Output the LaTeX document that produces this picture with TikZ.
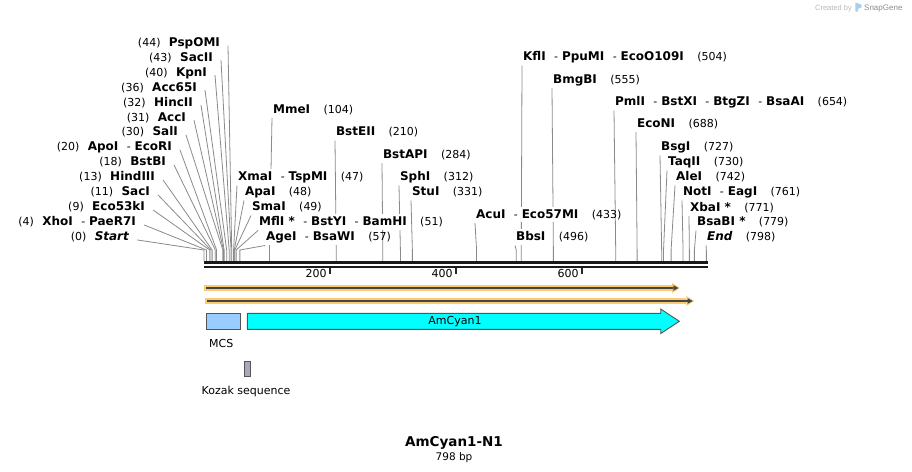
\documentclass[tikz,border=0pt]{standalone}
\usepackage{fontspec}
\setmainfont{DejaVu Sans}
\newfontfamily\logofont{Liberation Sans}
\usetikzlibrary{arrows.meta,backgrounds}
\definecolor{sitegray}{HTML}{8A8A8A}
\definecolor{orfband}{HTML}{FBCB74}
\definecolor{orfdark}{HTML}{454545}
\definecolor{mcsblue}{HTML}{99CCFF}
\definecolor{amcyan}{HTML}{00FFFF}
\definecolor{kozakgray}{HTML}{A9A9B8}
\definecolor{featedge}{HTML}{555555}
\definecolor{snapblue}{HTML}{A6D0EE}
% enzyme name on a white patch, numbers stay transparent
\newcommand\enz[1]{{\setlength\fboxsep{0.4pt}\colorbox{white}{\rule[-3.5pt]{0pt}{15pt}\fontsize{12}{14}\selectfont\bfseries #1}}}
\newcommand\dsh{\hspace{8pt}-\hspace{3.5pt}}

\begin{document}
\begin{tikzpicture}[x=1pt,y=-1pt,
    every node/.style={font=\fontsize{11}{13}\selectfont, inner sep=0.5pt},
    cut/.style={draw=sitegray, line width=0.8pt},
    feat/.style={draw=featedge, line width=0.9pt},
    leftlab/.style={anchor=base east},
    rightlab/.style={anchor=base west}]
  \useasboundingbox (0,0) rectangle (912,471);

  % sites left of the map: text ends at x
  \foreach \y/\x/\p/\lbl in {
      42.5/221/44/{\enz{PspOMI}},
      57/214/43/{\enz{SacII}},
      72/208/40/{\enz{KpnI}},
      87/198/36/{\enz{Acc65I}},
      102/194/32/{\enz{HincII}},
      117/187/31/{\enz{AccI}},
      131.7/179/30/{\enz{SalI}},
      146.7/173/20/{\enz{ApoI}\dsh\enz{EcoRI}},
      161.7/167/18/{\enz{BstBI}},
      176.7/156/13/{\enz{HindIII}},
      191.7/151/11/{\enz{SacI}},
      206.7/146/9/{\enz{Eco53kI}},
      221.7/137/4/{\enz{XhoI}\dsh\enz{PaeR7I}},
      236.7/130/0/{\enz{\itshape Start}}}{
    \coordinate (s\p) at ({204+0.6295*\p},250);
    \coordinate (b\p) at ({204+0.6295*\p},261);
    \node[leftlab] (e\p) at (\x,\y+4.2) {(\p)\hspace{8pt}\lbl};
  }

  % sites right of their line: text starts at x
  \foreach \y/\x/\p/\lbl in {
      109/273/104/{\enz{MmeI}},
      131.7/336/210/{\enz{BstEII}},
      154.3/383/284/{\enz{BstAPI}},
      176.7/238/47/{\enz{XmaI}\dsh\enz{TspMI}},
      191.7/245/48/{\enz{ApaI}},
      206.7/252/49/{\enz{SmaI}},
      221.7/259/51/{\enz{MflI *}\dsh\enz{BstYI}\dsh\enz{BamHI}},
      236.7/266/57/{\enz{AgeI}\dsh\enz{BsaWI}},
      176.7/400/312/{\enz{SphI}},
      191.7/412/331/{\enz{StuI}},
      214.3/476/433/{\enz{AcuI}\dsh\enz{Eco57MI}},
      236.7/516/496/{\enz{BbsI}},
      56.7/523/504/{\enz{KflI}\dsh\enz{PpuMI}\dsh\enz{EcoO109I}},
      79.3/553/555/{\enz{BmgBI}},
      101.7/615/654/{\enz{PmlI}\dsh\enz{BstXI}\dsh\enz{BtgZI}\dsh\enz{BsaAI}},
      123.3/637/688/{\enz{EcoNI}},
      146.7/661/727/{\enz{BsgI}},
      161.7/668/730/{\enz{TaqII}},
      176.7/676/742/{\enz{AleI}},
      191.7/683/761/{\enz{NotI}\dsh\enz{EagI}},
      207.3/690/771/{\enz{XbaI *}},
      221.7/697/779/{\enz{BsaBI *}},
      236.7/707/798/{\enz{\itshape End}}}{
    \coordinate (s\p) at ({204+0.6295*\p},250);
    \coordinate (b\p) at ({204+0.6295*\p},261);
    \node[rightlab] (e\p) at (\x-1,\y+4.2) {\lbl\hspace{13pt}(\p)};
  }

  % cut lines behind the labels
  \begin{scope}[on background layer]
    \foreach \p in {44,43,40,36,32,31,30,20,18,13,11,9,4,0}
      \draw[cut] ([shift={(7,3)}]e\p.east) -- (s\p) -- (b\p);
    \foreach \p in {104,210,284,47,48,49,51,57,312,331,433,496,504,555,654,688,727,730,742,761,771,779,798}
      \draw[cut] (e\p.south west) -- (s\p) -- (b\p);
  \end{scope}

  % backbone and ruler
  \coordinate (bbl) at (204,262.7);
  \coordinate (bbr) at (708,262.7);
  \draw[line width=3.3pt, black!90] (bbl) -- (bbr);
  \draw[line width=2.3pt, black!90] ([shift={(0,4.2)}]bbl) -- ([shift={(0,4.2)}]bbr);
  \foreach \t in {200,400,600}{
    \coordinate (t\t) at ({204+0.6295*\t},267.5);
    \draw[line width=1.7pt, black!85] (t\t) -- ++(0,6.8);
    \node[anchor=base east] (tl\t) at ([shift={(-2.5,9.8)}]t\t) {\t};
  }

  % ORFs
  \coordinate (orf1a) at (204,288);
  \coordinate (orf1b) at (680,288);
  \coordinate (orf2a) at (205,301);
  \coordinate (orf2b) at (694.3,301);
  \foreach \o in {1,2}{
    \draw[draw=orfband, line width=5.3pt, -{Triangle[length=8pt,width=10pt,line width=0pt]}] (orf\o a) -- (orf\o b);
    \draw[draw=orfdark, line width=1.8pt, shorten <=2pt, shorten >=1.6pt,
      -{Triangle[length=5pt,width=5.5pt,line width=0pt]}] (orf\o a) -- (orf\o b);
  }

  % features
  \node[feat, fill=mcsblue, anchor=north west, minimum width=33.5pt, minimum height=16pt] (mcs) at (206,313.3) {};
  \node[anchor=base] (mcslab) at (221.3,347.3) {MCS};
  \draw[feat, fill=amcyan] (247.3,313.3) -- (660.7,313.3) -- (660.7,309) -- (679.3,321.3)
    -- (660.7,333.6) -- (660.7,329.3) -- (247.3,329.3) -- cycle;
  \node[anchor=base] (cyanlab) at (455,324.3) {AmCyan1};
  \node[feat, fill=kozakgray, anchor=north west, minimum width=5.7pt, minimum height=15pt] (kozak) at (244.3,360.7) {};
  \node[anchor=base] (kozaklab) at (246,394.3) {Kozak sequence};

  % title
  \node[anchor=base, font=\fontsize{13.5}{16}\selectfont\bfseries] (title) at (454,446.7) {AmCyan1-N1};
  \node[anchor=base, font=\fontsize{10.5}{12}\selectfont] (size) at (454,460.5) {798 bp};

  % maker
  \node[anchor=base east, font=\logofont\fontsize{7.5}{9}\selectfont, text=black!28] (made) at (852.5,10.5) {Created by};
  \fill[snapblue, rounded corners=0.6pt] (855.3,2.5) -- (861.5,4.5) -- (861.5,7.5) -- (858,8.6) -- (858,11.5) -- (855.3,11.5) -- cycle;
  \node[anchor=base west, font=\logofont\fontsize{8}{9}\selectfont, text=black!45] (snap) at (863.5,10.5) {SnapGene};
\end{tikzpicture}
\end{document}
